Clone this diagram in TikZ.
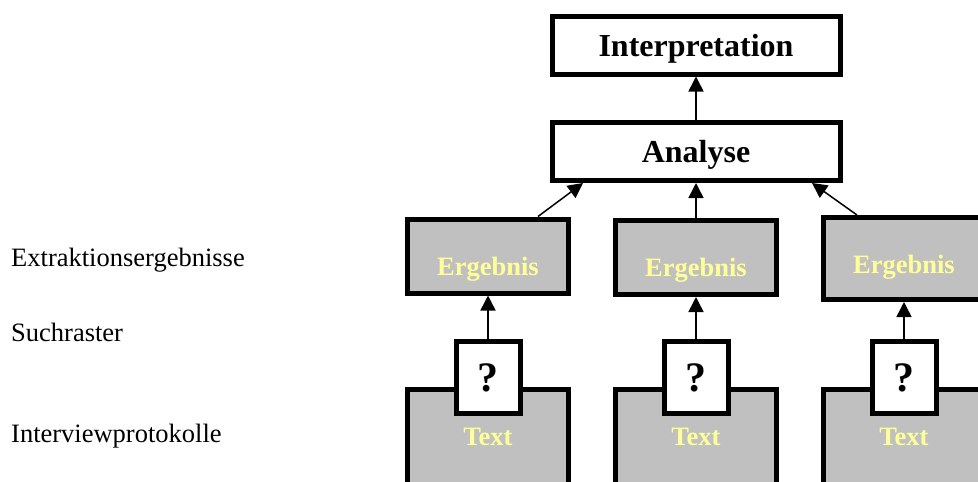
\documentclass[tikz,border=0pt]{standalone}
\usepackage{fontspec}
\setmainfont{Liberation Serif}
\usetikzlibrary{arrows.meta}

\definecolor{boxgray}{HTML}{C0C0C0}
\definecolor{paleyellow}{HTML}{FFFF99}
\newcommand{\fsz}[1]{\fontsize{#1}{#1}\selectfont}

\begin{document}
\begin{tikzpicture}[x=1pt,y=-1pt,>={Triangle[length=15pt,width=15pt]}]

  \tikzstyle{stage}=[rectangle,draw,fill=white,line width=5pt,
    minimum width=288pt,minimum height=58pt,inner sep=2pt,
    text depth=0pt,font=\bfseries\fsz{32}]
  \tikzstyle{result}=[rectangle,draw,fill=boxgray,text=paleyellow,
    line width=5pt,minimum width=161pt,minimum height=74pt,inner sep=2pt,
    text height=44pt,text depth=6pt,font=\bfseries\fsz{26.5}]
  \tikzstyle{source}=[rectangle,draw,fill=boxgray,text=paleyellow,
    line width=5pt,minimum width=161pt,minimum height=111pt,inner sep=2pt,
    text height=19pt,text depth=19pt,font=\bfseries\fsz{26.5}]
  \tikzstyle{query}=[rectangle,draw,fill=white,line width=5pt,
    minimum width=64pt,minimum height=72pt,inner sep=2pt,
    font=\bfseries\fsz{42}]
  \tikzstyle{side}=[anchor=base west,inner sep=0pt,font=\fsz{26.5}]

  \useasboundingbox (0,0) rectangle (978,482);
  \clip (0,0) rectangle (978,482);

  %% \draw [help lines,step=50] (0,0) grid (978,482);

  \node  (lres)   at (11,266)     [side]   {Extraktionsergebnisse};
  \node  (lgrid)  at (11,341)     [side]   {Suchraster};
  \node  (lprot)  at (11,442)     [side]   {Interviewprotokolle};

  \node  (interp) at (696,45)     [stage]  {Interpretation};
  \node  (ana)    at (696,151.5)  [stage]  {Analyse};

  \node  (erg1)   at (488,256)    [result] {Ergebnis};
  \node  (erg2)   at (696,257.5)  [result] {Ergebnis};
  \node  (erg3)   at (904,258.5)  [result,minimum height=82pt,
                                   text height=35pt] {Ergebnis};

  \node  (txt1)   at (488,445)    [source] {Text};
  \node  (txt2)   at (696,445)    [source] {Text};
  \node  (txt3)   at (904,445)    [source] {Text};

  \node  (q1)     at (488,377.5)  [query]  {?};
  \node  (q2)     at (696,377.5)  [query]  {?};
  \node  (q3)     at (904,377.5)  [query]  {?};

  \tikzstyle{flow}=[->,line width=1.5pt]

  \path (q1)  edge [flow] (erg1)
        (q2)  edge [flow] (erg2)
        (q3)  edge [flow] (erg3)

        ([xshift=50pt]erg1.north)  edge [flow] ([xshift=-113pt]ana.south)
        (erg2)                     edge [flow] (ana)
        ([xshift=-47pt]erg3.north) edge [flow] ([xshift=116pt]ana.south)

        (ana) edge [flow] (interp);
\end{tikzpicture}
\end{document}
